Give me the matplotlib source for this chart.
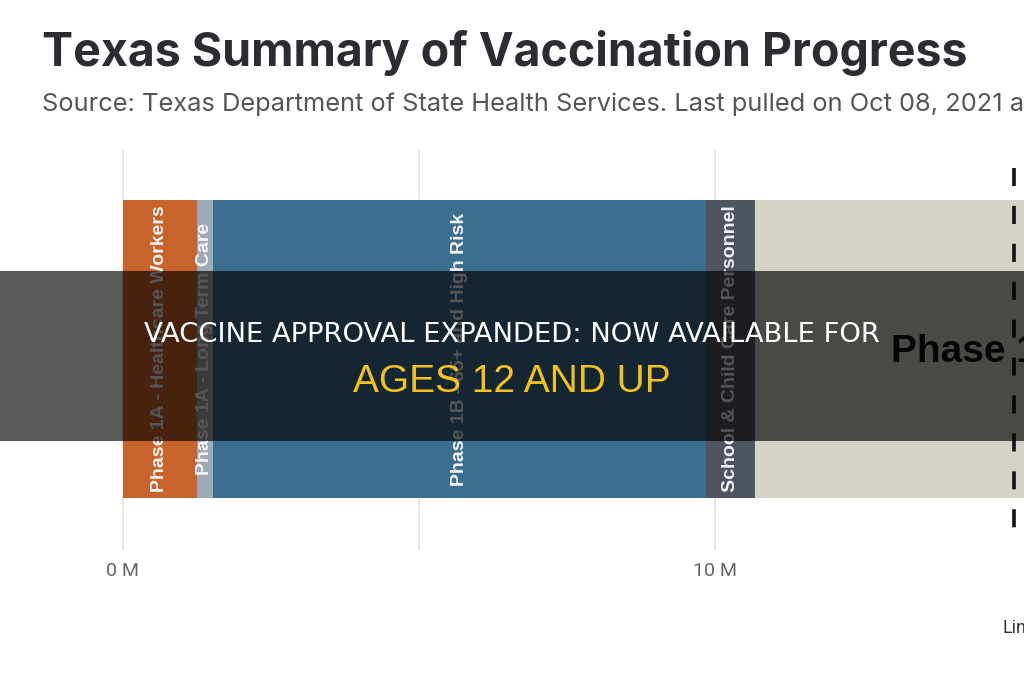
# -*- coding: utf-8 -*-
"""
Texas Summary of Vaccination Progress: barra apilada por fase,
con la franja de titular superpuesta.
"""
import numpy as np
import matplotlib
matplotlib.use("Agg")
import matplotlib.pyplot as plt
from matplotlib.patches import Rectangle

# ---------------------------------------------------------------------------
# Datos (millones de personas por fase)
# ---------------------------------------------------------------------------
fases = ["Phase 1A - Healthcare Workers", "Phase 1A - Long Term Care",
         "Phase 1B - 65+ and High Risk", "School & Child Care Personnel",
         "Phase 1C"]
poblacion_m = [1.25, 0.27, 8.33, 0.83, 6.0]
colores = ["#c8632b", "#9eaab5", "#3b6e8f", "#4f5560", "#d5d2c6"]
rotulo_vertical = [True, True, True, True, False]

grid_ticks = [0, 5, 10]
label_ticks = [0, 10]
tick_labels = ["0 M", "10 M"]
linea_ref = 15.05
linea_ref_label = "Line"

titulo = "Texas Summary of Vaccination Progress"
subtitulo = ("Source: Texas Department of State Health Services. "
             "Last pulled on Oct 08, 2021 at")
banner_1 = "VACCINE APPROVAL EXPANDED: NOW AVAILABLE FOR"
banner_2 = "AGES 12 AND UP"

# ---------------------------------------------------------------------------
# Figura: eje a pantalla completa, y en píxeles desde arriba
# ---------------------------------------------------------------------------
W, H = 1024, 680
fig = plt.figure(figsize=(W / 100, H / 100), dpi=100)
ax = fig.add_axes([0, 0, 1, 1])
px_por_m = 59.2
x0_px = 123
ax.set_xlim(-x0_px / px_por_m, (W - x0_px) / px_por_m)
ax.set_ylim(H, 0)
ax.axis("off")

bar_y, bar_h = 349, 298

# rejilla
ax.vlines(grid_ticks, 150, 550, color="#e6e6e6", lw=1.5, zorder=0)
for t, lab in zip(label_ticks, tick_labels):
    ax.text(t, 571, lab, ha="center", va="center", fontsize=14,
            color="#666666", family="Roboto")

# barra apilada
izq = np.concatenate([[0], np.cumsum(poblacion_m)[:-1]])
ax.barh([bar_y], poblacion_m, left=izq, height=bar_h, color=colores,
        zorder=2)
for nombre, l, v, vert in zip(fases, izq, poblacion_m, rotulo_vertical):
    if vert:
        ax.text(l + v / 2, bar_y, nombre, rotation=90, ha="center",
                va="center", fontsize=14, fontweight="bold",
                color="#f4f4f4", family="Liberation Sans", zorder=3)
    else:
        ax.text(l + 2.3, 352, nombre, ha="left", va="center",
                fontsize=28, fontweight="bold", color="#111111",
                family="Liberation Sans", zorder=3)

# línea de referencia discontinua
ax.vlines(linea_ref, 168, 546, color="#111111", lw=2.6,
          linestyles=(0, (5, 5.5)), zorder=4)
ax.text(linea_ref - 0.2, 628, linea_ref_label, ha="left", va="center",
        fontsize=13, color="#333333", family="Roboto")

# títulos
fig.text(42 / W, 1 - 66 / H, titulo, ha="left", va="baseline",
         fontsize=33.5, fontweight="bold", color="#2b2d33", family="Inter")
fig.text(42 / W, 1 - 111 / H, subtitulo, ha="left", va="baseline",
         fontsize=18.3, color="#555555", family="Inter")

# franja oscura del titular
fig.patches.append(Rectangle((0, 1 - 441 / H), 1, 170 / H,
                             transform=fig.transFigure, facecolor="black",
                             alpha=0.65, zorder=10))
fig.text(0.5, 1 - 335 / H, banner_1, ha="center", va="center",
         fontsize=19.7, color="white", family="DejaVu Sans", zorder=11)
fig.text(0.5, 1 - 382 / H, banner_2, ha="center", va="center",
         fontsize=28, color="#f3c220", family="Liberation Sans", zorder=11)

fig.savefig("out.png", dpi=100)
